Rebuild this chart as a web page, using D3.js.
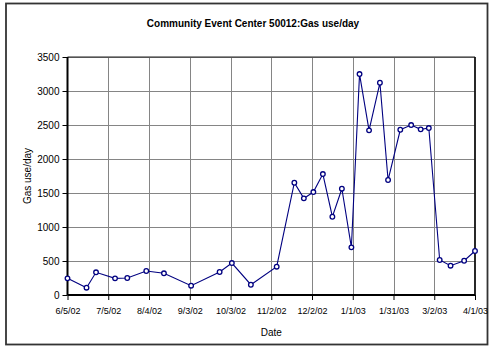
<!DOCTYPE html>
<html>
<head>
<meta charset="utf-8">
<script src="https://cdn.jsdelivr.net/npm/d3@7"></script>
<style>
  html, body { margin: 0; padding: 0; background: #fff; }
  svg { display: block; font-family: "Liberation Sans", Arial, sans-serif; }
</style>
</head>
<body>
<svg id="chart" width="495" height="350"></svg>
<script>
// Meter readings: reading date and average gas use per day
const readDates = [
  "2002-06-05", "2002-06-19", "2002-06-26", "2002-07-10", "2002-07-19",
  "2002-08-02", "2002-08-15", "2002-09-04", "2002-09-25", "2002-10-04",
  "2002-10-18", "2002-11-06", "2002-11-19", "2002-11-26", "2002-12-03",
  "2002-12-10", "2002-12-17", "2002-12-24", "2002-12-31", "2003-01-06",
  "2003-01-13", "2003-01-21", "2003-01-27", "2003-02-05", "2003-02-13",
  "2003-02-20", "2003-02-26", "2003-03-06", "2003-03-14", "2003-03-24",
  "2003-04-01"
];
const gasUse = [
  245, 107, 334, 245, 250,
  353, 319, 137, 338, 470,
  151, 416, 1651, 1421, 1514,
  1779, 1151, 1563, 701, 3249,
  2421, 3121, 1691, 2430, 2499,
  2436, 2455, 515, 431, 504,
  647
];
const xTickDates = [
  "2002-06-05", "2002-07-05", "2002-08-04", "2002-09-03", "2002-10-03",
  "2002-11-02", "2002-12-02", "2003-01-01", "2003-01-31", "2003-03-02",
  "2003-04-01"
];
const yTicks = [0, 500, 1000, 1500, 2000, 2500, 3000, 3500];

const chartTitle = "Community Event Center 50012:Gas use/day";
const xTitle = "Date";
const yTitle = "Gas use/day";

const parse = d3.utcParse("%Y-%m-%d");
const fmt = d => `${d.getUTCMonth() + 1}/${d.getUTCDate()}/${String(d.getUTCFullYear()).slice(2)}`;

const data = readDates.map((d, i) => ({ date: parse(d), value: gasUse[i] }));
const xTickValues = xTickDates.map(parse);

const svg = d3.select("#chart");
const plot = { left: 67.5, right: 475, top: 57, bottom: 295 };

// Outer chart frame
svg.append("rect")
  .attr("x", 6).attr("y", 3.5)
  .attr("width", 481.5).attr("height", 341)
  .attr("fill", "#fff")
  .attr("stroke", "#333").attr("stroke-width", 1.8);

const x = d3.scaleUtc()
  .domain([xTickValues[0], xTickValues[xTickValues.length - 1]])
  .range([plot.left, plot.right]);
const y = d3.scaleLinear()
  .domain([0, 3500])
  .range([plot.bottom, plot.top]);

// Grid lines
const grid = svg.append("g").attr("stroke", "#858585").attr("stroke-width", 1);
grid.selectAll("line.h").data(yTicks.slice(1)).join("line")
  .attr("class", "h")
  .attr("x1", plot.left).attr("x2", plot.right)
  .attr("y1", d => Math.round(y(d)) + 0.5).attr("y2", d => Math.round(y(d)) + 0.5);
grid.selectAll("line.v").data(xTickValues.slice(1, -1)).join("line")
  .attr("class", "v")
  .attr("x1", d => Math.round(x(d)) + 0.5).attr("x2", d => Math.round(x(d)) + 0.5)
  .attr("y1", plot.top).attr("y2", plot.bottom);

// Plot area border
svg.append("line")
  .attr("x1", plot.left).attr("x2", plot.right)
  .attr("y1", plot.top).attr("y2", plot.top)
  .attr("stroke", "#222").attr("stroke-width", 1.2);
svg.append("line")
  .attr("x1", plot.right).attr("x2", plot.right)
  .attr("y1", plot.top).attr("y2", plot.bottom)
  .attr("stroke", "#111").attr("stroke-width", 1.8);

// Axes
const xAxis = d3.axisBottom(x)
  .tickValues(xTickValues)
  .tickFormat(fmt)
  .tickSize(5)
  .tickPadding(8);
const yAxis = d3.axisLeft(y)
  .tickValues(yTicks)
  .tickFormat(d3.format("d"))
  .tickSize(5)
  .tickPadding(3);

const gx = svg.append("g")
  .attr("transform", `translate(0,${plot.bottom})`)
  .call(xAxis);
const gy = svg.append("g")
  .attr("transform", `translate(${plot.left},0)`)
  .call(yAxis);

[gx, gy].forEach(g => {
  g.select(".domain").attr("stroke", "#000").attr("stroke-width", 2);
  g.selectAll(".tick line").attr("stroke", "#000").attr("stroke-width", 1);
  g.selectAll(".tick text")
    .attr("fill", "#000")
    .style("font-family", "'Liberation Sans', Arial, sans-serif");
});
gx.selectAll(".tick text").style("font-size", "9px");
gy.selectAll(".tick text").style("font-size", "10px");
gx.select(".domain").attr("d", `M${plot.left},0H${plot.right}`);
gy.select(".domain").attr("d", `M0,${plot.top}V${plot.bottom}`);

// Series line and markers
const line = d3.line().x(d => x(d.date)).y(d => y(d.value));
svg.append("path")
  .datum(data)
  .attr("d", line)
  .attr("fill", "none")
  .attr("stroke", "#000080")
  .attr("stroke-width", 1.1);
svg.append("g").selectAll("circle").data(data).join("circle")
  .attr("cx", d => x(d.date))
  .attr("cy", d => y(d.value))
  .attr("r", 2.3)
  .attr("fill", "#fff")
  .attr("stroke", "#000080")
  .attr("stroke-width", 1.3);

// Titles
svg.append("text")
  .attr("x", 253).attr("y", 27)
  .attr("text-anchor", "middle")
  .style("font-size", "10px")
  .style("font-weight", "bold")
  .text(chartTitle);
svg.append("text")
  .attr("x", (plot.left + plot.right) / 2).attr("y", 336)
  .attr("text-anchor", "middle")
  .style("font-size", "10px")
  .text(xTitle);
svg.append("text")
  .attr("transform", `translate(31,${(plot.top + plot.bottom) / 2}) rotate(-90)`)
  .attr("text-anchor", "middle")
  .style("font-size", "10px")
  .text(yTitle);
</script>
</body>
</html>
